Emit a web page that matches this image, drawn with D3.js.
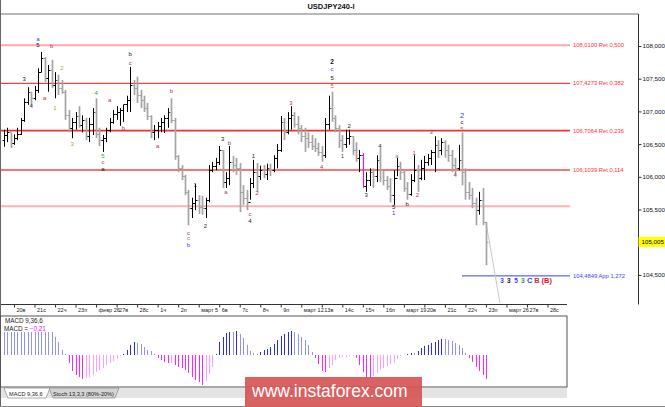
<!DOCTYPE html>
<html><head><meta charset="utf-8">
<script src="https://cdn.jsdelivr.net/npm/d3@7"></script>
<style>html,body{margin:0;padding:0;background:#fff;}svg{display:block;}</style>
</head><body>
<svg id="c" width="665" height="407"></svg>
<script>
// ---------------- DATA ----------------
const title = "USDJPY240-I";
const highs = [106.72,106.75,106.67,106.65,106.75,106.90,107.20,107.37,107.30,107.39,
107.66,107.91,107.83,107.71,107.79,107.60,107.56,107.48,107.33,107.02,
106.90,106.99,107.08,106.94,106.90,106.90,107.05,107.20,106.75,106.64,
106.75,106.90,107.02,107.08,107.05,107.10,107.24,107.68,107.48,107.53,
107.33,107.24,107.13,106.94,106.79,106.84,106.90,106.94,107.05,107.20,
106.90,106.33,106.18,106.03,105.80,105.68,105.89,105.72,105.71,105.68,
106.18,106.23,106.29,106.47,106.41,106.07,106.47,106.32,106.29,106.21,
105.87,105.80,105.98,106.26,106.21,106.17,106.18,106.20,106.20,106.33,
106.50,106.93,106.90,106.99,107.08,106.99,106.93,106.79,106.75,106.68,
106.64,106.59,106.52,106.47,106.90,107.24,107.30,106.94,106.79,106.64,
106.72,106.72,106.62,106.53,106.41,106.36,106.07,106.13,106.13,106.33,
106.44,106.10,106.01,105.98,106.10,106.29,106.23,106.10,105.92,106.04,
106.33,106.18,106.26,106.32,106.35,106.41,106.62,106.56,106.59,106.56,
106.49,106.41,106.29,106.49,106.68,106.13,105.92,105.83,105.68,105.77,
105.83,105.31];
const lows = [106.46,106.53,106.44,106.49,106.56,106.64,106.84,107.10,107.08,107.17,
107.28,107.60,107.45,107.30,107.36,107.20,107.25,107.27,106.87,106.68,
106.59,106.72,106.75,106.68,106.56,106.53,106.64,106.59,106.47,106.38,
106.53,106.68,106.81,106.87,106.78,106.84,106.99,106.99,107.25,107.13,
107.05,106.99,106.87,106.59,106.56,106.59,106.68,106.67,106.75,106.82,
106.26,106.07,105.95,105.72,105.26,105.37,105.49,105.43,105.42,105.37,
105.61,106.07,106.10,106.18,105.83,105.83,105.87,106.07,106.03,105.46,
105.57,105.49,105.65,105.83,105.77,105.95,105.98,105.95,106.01,106.07,
106.13,106.38,106.56,106.65,106.72,106.75,106.65,106.53,106.38,106.44,
106.41,106.38,106.32,106.23,106.29,106.72,106.84,106.68,106.44,106.38,
106.44,106.49,106.33,106.23,106.07,105.83,105.77,105.86,105.83,105.92,
105.92,105.87,105.80,105.61,105.57,106.01,105.95,105.77,105.65,105.71,
105.92,105.77,105.95,105.95,106.17,106.18,106.07,106.29,106.33,106.29,
106.23,106.07,106.03,106.10,105.87,105.65,105.65,105.52,105.26,105.42,
105.26,104.65];
const opens = [106.56,106.64,106.68,106.52,106.59,106.65,106.87,107.14,107.30,107.20,
107.33,107.60,107.82,107.51,107.63,107.40,107.48,107.36,107.30,106.94,
106.75,106.84,106.93,106.79,106.87,106.62,106.81,106.99,106.65,106.56,
106.59,106.72,106.84,106.96,106.99,107.02,107.11,107.17,107.40,107.36,
107.25,107.17,107.05,106.93,106.68,106.72,106.78,106.84,106.90,106.99,
106.87,106.32,106.13,106.01,105.77,105.52,105.60,105.65,105.54,105.52,
105.65,106.10,106.17,106.23,106.41,105.92,105.98,106.23,106.18,106.13,
105.77,105.68,105.61,105.91,106.07,106.01,106.10,106.04,106.13,106.10,
106.29,106.41,106.84,106.68,106.90,106.94,106.81,106.75,106.62,106.59,
106.53,106.47,106.44,106.38,106.33,106.81,107.05,106.90,106.75,106.56,
106.50,106.59,106.62,106.41,106.29,106.33,105.86,105.95,106.07,106.01,
106.26,106.10,105.95,105.86,105.72,105.98,106.17,106.07,105.83,105.74,
105.95,106.10,105.98,106.13,106.23,106.29,106.38,106.49,106.41,106.53,
106.41,106.33,106.18,106.13,106.26,106.07,105.77,105.72,105.60,105.49,
105.65,105.31];
const closes = [106.64,106.68,106.52,106.59,106.65,106.87,107.14,107.30,107.20,107.33,
107.60,107.82,107.51,107.63,107.40,107.48,107.36,107.30,106.94,106.75,
106.84,106.93,106.79,106.87,106.62,106.81,106.99,106.65,106.56,106.59,
106.72,106.84,106.96,106.99,107.02,107.11,107.17,107.40,107.36,107.25,
107.17,107.05,106.93,106.68,106.72,106.78,106.84,106.90,106.99,106.87,
106.32,106.13,106.01,105.77,105.52,105.60,105.65,105.54,105.52,105.65,
106.10,106.17,106.23,106.41,105.92,105.98,106.23,106.18,106.13,105.77,
105.68,105.61,105.91,106.07,106.01,106.10,106.04,106.13,106.10,106.29,
106.41,106.84,106.68,106.90,106.94,106.81,106.75,106.62,106.59,106.53,
106.47,106.44,106.38,106.33,106.81,107.05,106.90,106.75,106.56,106.50,
106.59,106.62,106.41,106.29,106.33,105.86,105.95,106.07,106.01,106.26,
106.10,105.95,105.86,105.72,105.98,106.17,106.07,105.83,105.74,105.95,
106.10,105.98,106.13,106.23,106.29,106.38,106.49,106.41,106.53,106.41,
106.33,106.18,106.13,106.26,106.07,105.77,105.72,105.60,105.49,105.65,
105.31,105.005];
const highlightBar = 105;
const macd = [0.201,0.201,0.201,0.201,0.201,0.201,0.201,0.201,0.201,0.201,
0.201,0.201,0.201,0.201,0.201,0.158,0.114,0.044,0.009,-0.070,
-0.140,-0.175,-0.193,-0.210,-0.201,-0.193,-0.175,-0.149,-0.131,-0.114,
-0.088,-0.070,-0.053,-0.035,-0.009,0.009,0.044,0.088,0.114,0.105,
0.096,0.070,0.044,0.035,0.009,-0.026,-0.044,-0.061,-0.070,-0.070,
-0.088,-0.105,-0.114,-0.131,-0.158,-0.193,-0.219,-0.236,-0.263,-0.228,
-0.166,-0.105,0.009,0.114,0.158,0.193,0.201,0.201,0.210,0.184,
0.149,0.088,0.035,0.018,0.009,0.026,0.044,0.053,0.070,0.096,
0.131,0.166,0.184,0.201,0.210,0.201,0.184,0.158,0.131,0.088,
0.026,-0.026,-0.079,-0.140,-0.149,-0.114,-0.088,-0.044,-0.026,-0.018,
-0.018,-0.009,-0.009,-0.026,-0.088,-0.149,-0.193,-0.201,-0.184,-0.158,
-0.131,-0.114,-0.096,-0.079,-0.070,-0.035,-0.009,0,0.009,0.018,
0.018,0.035,0.061,0.079,0.088,0.105,0.114,0.131,0.140,0.140,
0.131,0.123,0.105,0.088,0.061,0.018,-0.026,-0.061,-0.105,-0.140,
-0.175,-0.210];
const macdName = "MACD 9,36,6";
const stochName = "Stoch 13,3,3 (80%-20%)";
const dayLabels = ["20в","21с","22ч","23п","февр 26","27в","28с","1ч","2п","март 5","6в","7с","8ч","9п",
"март 12","13в","14с","15ч","16п","март 19","20в","21с","22ч","23п","март 26","27в","28с"];
const barsPerDay = 6, firstDayBar = 3;
const priceTicks = [104.5,105.0,105.5,106.0,106.5,107.0,107.5,108.0];
const currentPrice = 105.005;
const fibLevels = [108.0100,107.4273,106.7064,106.1039];
const fibNames = ["Ret 0,500","Ret 0,382","Ret 0,236","Ret 0,114"];
const extraLevel = 105.55;
const targetLevel = 104.4849, targetName = "App 1,272", targetStartBar = 134;
const forecastBars = [141,145.1];
const forecastPrices = [105.31,104.07];
const waveText  = ["a","5","b","3","4","a","2","1","3","4","5","c","a","a","b","b","c","a","b","c","c","b","1","2","3","b","a","1","2","c","4","3","2","c","5","5","4","2","1","3","4","a","5","1","b","1","2","3","4","2","c","5"];
const waveBar   = [10,10,14,6,8,12,17,15,20,27,29,29,29,31,35,37,37,45,49,54,54,54,56,59,64,66,65,73,74,72,72,84,96,96,96,96,93,101,99,106,110,115,114,114,118,120,121,125,132,134,134,134];
const wavePrice = [108.11,108.02,108.00,107.50,107.08,107.20,107.66,107.05,106.50,107.28,106.32,106.23,106.12,107.17,106.75,107.88,107.74,106.47,107.31,105.14,105.06,104.96,105.87,105.25,106.58,106.52,105.77,106.32,105.75,105.43,105.32,107.13,107.77,107.65,107.51,107.39,106.15,106.78,106.32,105.72,106.47,106.32,105.54,105.45,105.58,106.36,105.72,106.69,106.03,106.94,106.84,106.73];
const waveKind  = ["B","K","R","K","N","R","O","O","O","G","G","R","K","R","R","K","R","R","R","R","Y","B","K","K","K","R","R","K","R","R","K","R","KB","B","K","Or","R","K","N","K","K","Y","K","B","K","R","R","R","R","BB","K","Or"];
const targetText  = ["3","3","5","3","C","B","(B)"];
const targetBars  = [145.7,147.7,149.8,151.8,153.8,155.9,158.8];
const targetKinds = ["B","K","B","G","B","R","RR"];
const targetPrice = 104.41;
const watermark = "www.instaforex.com";

// ---------------- STYLE ----------------
const F = "'Liberation Sans', Arial, sans-serif";
const kindColor = {B:"#3a3aff",BB:"#3a3aff",K:"#222",KB:"#111",R:"#b03c3c",RR:"#e02020",O:"#9aaa32",G:"#2e9e2e",N:"#2c3e7a",Y:"#8a8a8a",Or:"#c8642a"};
const kindBold = {KB:true,BB:false};
const fibStyle = [{c:"#ffa8a8",w:2},{c:"#f04040",w:1.3},{c:"#ee3030",w:1.7},{c:"#f04848",w:1.3}];

const svg = d3.select("#c");
const plotTop = 14, axisX = 638.5, plotBottom = 304.5, lineEnd = 570, panelRight = 567;
const macdTop = 316, macdBottom = 387;

const x = d3.scaleLinear().domain([0,159]).range([3.74,547.5]);
const y = d3.scaleLinear().domain([104.5,108]).range([274.9,46]);
const my = d3.scaleLinear().domain([-0.28,0.341]).range([macdBottom,macdTop]);
const comma = (v,f) => d3.format(f)(v).replace(".",",");

svg.append("rect").attr("width",665).attr("height",407).attr("fill","#fff");

// title
svg.append("text").attr("x",331).attr("y",8.5).attr("text-anchor","middle")
  .attr("font-family",F).attr("font-weight","bold").attr("font-size",7.5).attr("fill","#111").text(title);

// frame lines
svg.append("line").attr("x1",0).attr("x2",axisX).attr("y1",14).attr("y2",14).attr("stroke","#a0a0a0").attr("stroke-width",1.5);
svg.append("line").attr("x1",axisX).attr("x2",axisX).attr("y1",14).attr("y2",plotBottom).attr("stroke","#333");
svg.append("line").attr("x1",0).attr("x2",panelRight).attr("y1",plotBottom).attr("y2",plotBottom).attr("stroke","#333");
svg.append("line").attr("x1",0.5).attr("x2",0.5).attr("y1",0).attr("y2",407).attr("stroke","#666");

// horizontal levels
fibLevels.forEach((lv,i)=>{
  svg.append("line").attr("x1",1).attr("x2",lineEnd).attr("y1",y(lv)).attr("y2",y(lv))
    .attr("stroke",fibStyle[i].c).attr("stroke-width",fibStyle[i].w);
  svg.append("text").attr("x",lineEnd+3).attr("y",y(lv)).attr("dominant-baseline","central")
    .attr("font-family",F).attr("font-size",5.8).attr("fill","#ff3030")
    .text(comma(lv,".4f")+" "+fibNames[i]);
});
svg.append("line").attr("x1",1).attr("x2",lineEnd).attr("y1",y(extraLevel)).attr("y2",y(extraLevel))
  .attr("stroke","#ffb0b0").attr("stroke-width",2);
svg.append("line").attr("x1",x(targetStartBar)).attr("x2",lineEnd).attr("y1",y(targetLevel)).attr("y2",y(targetLevel))
  .attr("stroke","#3c3cff").attr("stroke-width",1);
svg.append("text").attr("x",lineEnd+3).attr("y",y(targetLevel)).attr("dominant-baseline","central")
  .attr("font-family",F).attr("font-size",5.8).attr("fill","#3c3cff")
  .text(comma(targetLevel,".4f")+" "+targetName);

// forecast line
svg.append("line").attr("x1",x(forecastBars[0])).attr("y1",y(forecastPrices[0]))
  .attr("x2",x(forecastBars[1])).attr("y2",y(forecastPrices[1]))
  .attr("stroke","#c8c8c8").attr("stroke-width",1);

// OHLC bars
const bars = svg.append("g");
d3.range(highs.length).forEach(i=>{
  const up = closes[i] >= opens[i];
  const col = i===highlightBar ? "#ff00ff" : (up ? "#000" : "#a4a4a4");
  const w = up || i===highlightBar ? 1 : 1.7;
  const cx = Math.round(x(i)) + 0.5;
  const g = bars.append("g").attr("stroke",col).attr("stroke-width",w);
  g.append("line").attr("x1",cx).attr("x2",cx).attr("y1",y(highs[i])).attr("y2",y(lows[i]));
  g.append("line").attr("x1",cx-2).attr("x2",cx).attr("y1",Math.round(y(opens[i]))+0.5).attr("y2",Math.round(y(opens[i]))+0.5).attr("stroke-width",1);
  g.append("line").attr("x1",cx).attr("x2",cx+2).attr("y1",Math.round(y(closes[i]))+0.5).attr("y2",Math.round(y(closes[i]))+0.5).attr("stroke-width",1);
});

// wave labels
svg.append("g").selectAll("text").data(waveText).join("text")
  .attr("x",(d,i)=>x(waveBar[i])).attr("y",(d,i)=>y(wavePrice[i]))
  .attr("text-anchor","middle").attr("dominant-baseline","central")
  .attr("font-family",F)
  .attr("font-size",(d,i)=>waveKind[i]==="BB"?7.5:(waveKind[i]==="KB"?6.5:6))
  .attr("font-weight",(d,i)=>kindBold[waveKind[i]]?"bold":"normal")
  .attr("fill",(d,i)=>kindColor[waveKind[i]]).text(d=>d);

svg.append("g").selectAll("text").data(targetText).join("text")
  .attr("x",(d,i)=>x(targetBars[i])).attr("y",y(targetPrice))
  .attr("text-anchor","middle").attr("dominant-baseline","central")
  .attr("font-family",F).attr("font-size",(d,i)=>i<4?6.5:7.5).attr("font-weight","bold")
  .attr("fill",(d,i)=>kindColor[targetKinds[i]]).text(d=>d);

// y axis
const ya = svg.append("g").attr("transform",`translate(${axisX},0)`)
  .call(d3.axisRight(y).tickValues(priceTicks).tickSize(3).tickPadding(1).tickFormat(v=>comma(v,".3f")));
ya.select(".domain").remove();
ya.selectAll("text").attr("font-family",F).attr("font-size",6.2).attr("fill","#111");
ya.selectAll("line").attr("stroke","#333");
// current price
const cp = svg.append("g");
cp.append("rect").attr("x",axisX).attr("y",y(currentPrice)-5).attr("width",665-axisX).attr("height",10).attr("fill","#ffff00");
cp.append("text").attr("x",axisX+3).attr("y",y(currentPrice)).attr("dominant-baseline","central")
  .attr("font-family",F).attr("font-size",6.2).attr("fill","#000").text(comma(currentPrice,".3f"));

// x axis
const dayIdx = dayLabels.map((d,i)=>firstDayBar + i*barsPerDay);
const xa = svg.append("g").attr("transform",`translate(0,${plotBottom})`)
  .call(d3.axisBottom(x).tickValues(dayIdx).tickSize(3).tickFormat((d,i)=>dayLabels[i]));
xa.select(".domain").remove();
xa.selectAll("line").attr("stroke","#333");
xa.selectAll("text").attr("text-anchor","start").attr("dx",2).attr("y",3.5).attr("dy","0.71em")
  .attr("font-family",F).attr("font-size",5.5).attr("fill","#222");

// MACD panel
svg.append("rect").attr("x",0.5).attr("y",macdTop).attr("width",panelRight-0.5).attr("height",macdBottom-macdTop)
  .attr("fill","#fff").attr("stroke","#555");
const mg = svg.append("g");
macd.forEach((v,i)=>{
  const prev = i>0 ? macd[i-1] : v;
  const col = v>=0 ? (v>prev ? "#2a2aff" : "#9292f2") : (v<prev ? "#ff22ff" : "#ff9cff");
  const cx = Math.round(x(i)) + 0.5;
  mg.append("line").attr("x1",cx).attr("x2",cx).attr("y1",my(0)).attr("y2",my(v)).attr("stroke",col).attr("stroke-width",1);
});
svg.append("text").attr("x",5).attr("y",322.5).attr("font-family",F).attr("font-size",6.3).attr("fill","#222").text(macdName);
const mt = svg.append("text").attr("x",4).attr("y",331).attr("font-family",F).attr("font-size",6.3).attr("fill","#222");
mt.append("tspan").text("MACD = ");
mt.append("tspan").attr("fill","#ff00ff").text(comma(macd[macd.length-1],".2f"));

// tabs
svg.append("rect").attr("x",1).attr("y",388).attr("width",panelRight-1).attr("height",10).attr("fill","#e4e4e4");
svg.append("polygon").attr("points","49,388 53,398 115,398 119,388").attr("fill","#d4d4d4").attr("stroke","#888").attr("stroke-width",0.7);
svg.append("polygon").attr("points","4,388 8,398 46,398 50,388").attr("fill","#fff").attr("stroke","#888").attr("stroke-width",0.7);
svg.append("text").attr("x",9).attr("y",395.5).attr("font-family",F).attr("font-size",5.6).attr("fill","#222").text(macdName);
svg.append("text").attr("x",53).attr("y",395.5).attr("font-family",F).attr("font-size",5.6).attr("fill","#222").text(stochName);
svg.append("line").attr("x1",0).attr("x2",665).attr("y1",406.5).attr("y2",406.5).attr("stroke","#888");

// watermark
svg.append("rect").attr("x",245).attr("y",377).attr("width",177).attr("height",30).attr("fill","#d65656").attr("opacity",0.92);
svg.append("text").attr("x",252).attr("y",397).attr("font-family",F).attr("font-size",17.5).attr("fill","#fff").text(watermark);
</script>
</body></html>
